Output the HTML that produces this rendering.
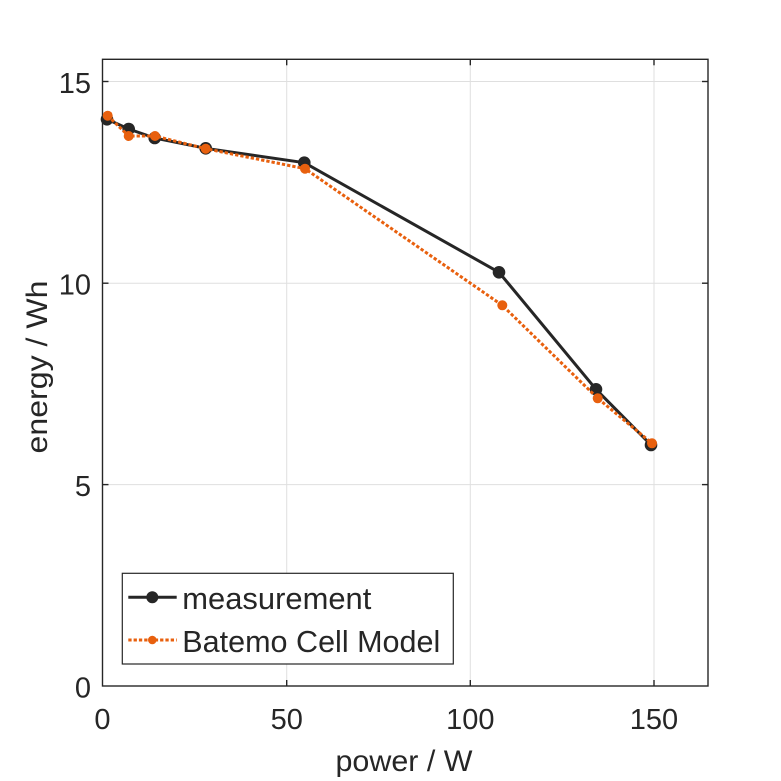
<!DOCTYPE html>
<html>
<head>
<meta charset="utf-8">
<style>
  html, body { margin: 0; padding: 0; background: #ffffff; }
  svg { display: block; }
  text { font-family: "Liberation Sans", "DejaVu Sans", sans-serif; fill: #262626; }
</style>
</head>
<body>
<svg width="781" height="781" viewBox="0 0 781 781" xmlns="http://www.w3.org/2000/svg">
  <rect x="0" y="0" width="781" height="781" fill="#ffffff"/>
  <!-- plot area -->
  <rect x="102.5" y="59.3" width="605.5" height="626.7" fill="#ffffff"/>
  <!-- grid -->
  <g stroke="#dfdfdf" stroke-width="1">
    <line x1="286.7" y1="59.3" x2="286.7" y2="686"/>
    <line x1="470.3" y1="59.3" x2="470.3" y2="686"/>
    <line x1="654" y1="59.3" x2="654" y2="686"/>
    <line x1="102.5" y1="81.5" x2="708" y2="81.5"/>
    <line x1="102.5" y1="283.2" x2="708" y2="283.2"/>
    <line x1="102.5" y1="484.6" x2="708" y2="484.6"/>
  </g>
  <!-- axes box -->
  <rect x="102.5" y="59.3" width="605.5" height="626.7" fill="none" stroke="#262626" stroke-width="1.4"/>
  <!-- ticks -->
  <g stroke="#262626" stroke-width="1.4">
    <line x1="286.7" y1="686" x2="286.7" y2="680"/>
    <line x1="470.3" y1="686" x2="470.3" y2="680"/>
    <line x1="654" y1="686" x2="654" y2="680"/>
    <line x1="286.7" y1="59.3" x2="286.7" y2="65.3"/>
    <line x1="470.3" y1="59.3" x2="470.3" y2="65.3"/>
    <line x1="654" y1="59.3" x2="654" y2="65.3"/>
    <line x1="102.5" y1="81.5" x2="108.5" y2="81.5"/>
    <line x1="102.5" y1="283.2" x2="108.5" y2="283.2"/>
    <line x1="102.5" y1="484.6" x2="108.5" y2="484.6"/>
    <line x1="708" y1="81.5" x2="702" y2="81.5"/>
    <line x1="708" y1="283.2" x2="702" y2="283.2"/>
    <line x1="708" y1="484.6" x2="702" y2="484.6"/>
  </g>
  <!-- y tick labels -->
  <g font-size="29" text-anchor="end">
    <text x="91" y="93">15</text>
    <text x="91" y="294.5">10</text>
    <text x="91" y="496">5</text>
    <text x="91" y="697.5">0</text>
  </g>
  <!-- x tick labels -->
  <g font-size="29" text-anchor="middle">
    <text x="102.5" y="729">0</text>
    <text x="286.7" y="729">50</text>
    <text x="470.3" y="729">100</text>
    <text x="654" y="729">150</text>
  </g>
  <!-- axis labels -->
  <text x="404" y="771" font-size="30" text-anchor="middle" textLength="137" lengthAdjust="spacingAndGlyphs">power / W</text>
  <text transform="translate(47,367) rotate(-90)" x="0" y="0" font-size="30" text-anchor="middle" textLength="173" lengthAdjust="spacingAndGlyphs">energy / Wh</text>

  <!-- measurement series -->
  <polyline fill="none" stroke="#262626" stroke-width="3" stroke-linejoin="round"
    points="107,119.3 128.7,129 154.7,138 205.7,148.3 304.3,162.7 499,272.3 596,389.3 651,445"/>
  <g fill="#262626">
    <circle cx="107" cy="119.3" r="6.3"/>
    <circle cx="128.7" cy="129" r="6.3"/>
    <circle cx="154.7" cy="138" r="6.3"/>
    <circle cx="205.7" cy="148.3" r="6.3"/>
    <circle cx="304.3" cy="162.7" r="6.3"/>
    <circle cx="499" cy="272.3" r="6.3"/>
    <circle cx="596" cy="389.3" r="6.3"/>
    <circle cx="651" cy="445" r="6.3"/>
  </g>
  <!-- Batemo series -->
  <polyline fill="none" stroke="#E8600E" stroke-width="3" stroke-dasharray="3.3,2"
    points="107.7,115.7 128.7,136 155,136 205.7,148.7 305,168.7 502.3,305.3 597.7,398.3 652,443.3"/>
  <g fill="#E8600E">
    <circle cx="107.7" cy="115.7" r="5"/>
    <circle cx="128.7" cy="136" r="5"/>
    <circle cx="155" cy="136" r="5"/>
    <circle cx="205.7" cy="148.7" r="5"/>
    <circle cx="305" cy="168.7" r="5"/>
    <circle cx="502.3" cy="305.3" r="5"/>
    <circle cx="597.7" cy="398.3" r="5"/>
    <circle cx="652" cy="443.3" r="5"/>
  </g>

  <!-- legend -->
  <rect x="122.3" y="573.3" width="331" height="90.7" fill="#ffffff" stroke="#262626" stroke-width="1.2"/>
  <line x1="128.3" y1="597.3" x2="176.7" y2="597.3" stroke="#262626" stroke-width="3"/>
  <circle cx="152.3" cy="597.3" r="6" fill="#262626"/>
  <line x1="128.3" y1="640" x2="176.7" y2="640" stroke="#E8600E" stroke-width="3" stroke-dasharray="3.3,2"/>
  <circle cx="152.3" cy="640" r="4.3" fill="#E8600E"/>
  <text x="182.3" y="609" font-size="31" fill="#000000" textLength="189" lengthAdjust="spacingAndGlyphs">measurement</text>
  <text x="182.3" y="652" font-size="31" fill="#000000" textLength="258" lengthAdjust="spacingAndGlyphs">Batemo Cell Model</text>
</svg>
</body>
</html>
